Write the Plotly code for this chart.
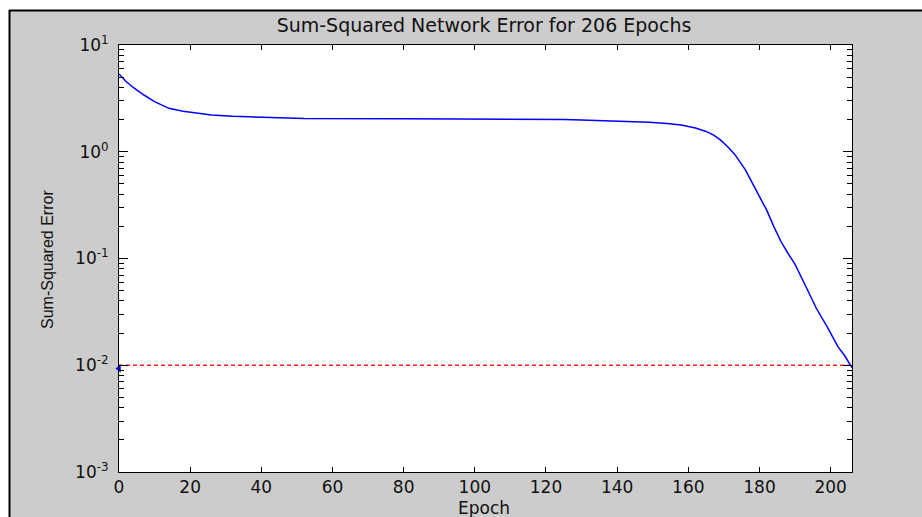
import plotly.graph_objects as go

# Training history: sum-squared error per epoch
epochs = [0, 2, 4, 7, 10, 14, 18, 22, 26, 32, 40, 52, 80, 118, 125, 130, 142,
          149, 154, 158, 162, 165, 167, 169, 171, 173, 176, 178, 180, 182, 184,
          186, 188, 190, 193, 196, 199, 202, 204, 206]
sse = [5.35, 4.55, 4.00, 3.40, 2.95, 2.55, 2.40, 2.30, 2.21, 2.15, 2.10, 2.05,
       2.04, 2.03, 2.00, 1.98, 1.94, 1.89, 1.84, 1.78, 1.67, 1.55, 1.44, 1.29,
       1.12, 0.95, 0.68, 0.51, 0.37, 0.285, 0.20, 0.145, 0.112, 0.088, 0.055,
       0.034, 0.023, 0.015, 0.0122, 0.0095]

# Error goal
goal_epochs = [0, 206]
goal_sse = [0.01, 0.01]

# Marker at the axis for the goal
marker_epoch = [0]
marker_sse = [0.0093]

xtick_vals = [0, 20, 40, 60, 80, 100, 120, 140, 160, 180, 200]
ytick_vals = [1e-3, 1e-2, 1e-1, 1e0, 1e1]
ytick_text = ["10<sup>-3</sup>", "10<sup>-2</sup>", "10<sup>-1</sup>",
              "10<sup>0</sup>", "10<sup>1</sup>"]
minor_vals = [m * 10.0 ** e for e in range(-3, 1) for m in range(2, 10)]

W, H = 922, 517
L, R, T, B = 119, 852, 45, 472


def px_x(p):
    return (p - L) / (R - L)


def px_y(p):
    return (B - p) / (B - T)


fig = go.Figure()
fig.add_trace(go.Scatter(x=goal_epochs, y=goal_sse, mode="lines",
                         line=dict(color="#ff2020", width=1.5, dash="4px,3px"),
                         hoverinfo="skip", showlegend=False))
fig.add_trace(go.Scatter(x=epochs, y=sse, mode="lines",
                         line=dict(color="#0000ff", width=1.5),
                         showlegend=False))
fig.add_trace(go.Scatter(x=marker_epoch, y=marker_sse, mode="markers",
                         marker=dict(symbol="triangle-left", size=7, color="#0000ff"),
                         cliponaxis=False, showlegend=False))

txt = "#111111"
fig.update_layout(
    width=W, height=H,
    margin=dict(l=L, r=W - R, t=T, b=H - B, autoexpand=False),
    paper_bgcolor="#cccccc",
    plot_bgcolor="white",
    font=dict(family="DejaVu Sans", size=17, color=txt),
    title=dict(text="Sum-Squared Network Error for 206 Epochs",
               x=px_x(484), xref="paper", xanchor="center",
               y=1 - 25 / H, yref="container", yanchor="middle",
               automargin=False,
               font=dict(family="DejaVu Sans", size=19, color=txt)),
    xaxis=dict(range=[0, 206], tickvals=xtick_vals, ticks="inside", ticklen=5,
               tickcolor="black", showline=True, linecolor="black", linewidth=1,
               mirror="ticks", showgrid=False, zeroline=False, automargin=False,
               ticklabelstandoff=0),
    yaxis=dict(type="log", range=[-3, 1], tickvals=ytick_vals, ticktext=ytick_text,
               ticks="inside", ticklen=9, tickcolor="black", showline=True,
               linecolor="black", linewidth=1, mirror="ticks", showgrid=False,
               zeroline=False, automargin=False, ticklabelstandoff=6,
               minor=dict(tickvals=minor_vals, ticks="inside", ticklen=5,
                          tickcolor="black", showgrid=False)),
    annotations=[
        dict(text="Epoch", xref="paper", yref="paper",
             x=px_x(484), y=px_y(507.5), xanchor="center", yanchor="middle",
             showarrow=False,
             font=dict(family="DejaVu Sans", size=17, color=txt)),
        dict(text="Sum-Squared Error", xref="paper", yref="paper",
             x=px_x(47), y=px_y(260), xanchor="center", yanchor="middle",
             textangle=-90, showarrow=False,
             font=dict(family="Liberation Sans", size=16, color=txt)),
    ],
    shapes=[
        dict(type="rect", xref="paper", yref="paper", layer="above",
             x0=px_x(0), x1=px_x(W), y0=px_y(10), y1=px_y(0),
             fillcolor="white", line=dict(width=0)),
        dict(type="rect", xref="paper", yref="paper", layer="above",
             x0=px_x(0), x1=px_x(9), y0=px_y(H), y1=px_y(0),
             fillcolor="white", line=dict(width=0)),
        dict(type="line", xref="paper", yref="paper", layer="above",
             x0=px_x(9), x1=px_x(W), y0=px_y(10.5), y1=px_y(10.5),
             line=dict(color="black", width=2)),
        dict(type="line", xref="paper", yref="paper", layer="above",
             x0=px_x(9.5), x1=px_x(9.5), y0=px_y(10), y1=px_y(H),
             line=dict(color="black", width=2)),
    ],
)

fig.write_html("out.html")
